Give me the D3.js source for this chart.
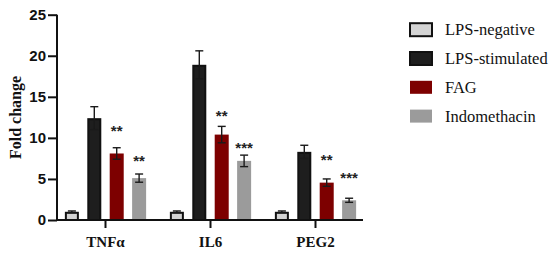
<!DOCTYPE html>
<html><head><meta charset="utf-8">
<script src="https://cdn.jsdelivr.net/npm/d3@7"></script>
<style>body{margin:0;background:#fff}svg{display:block}</style>
</head><body><svg id="c" width="550" height="253"></svg>
<script>
const categories = ["TNFα", "IL6", "PEG2"];
const series = ["LPS-negative", "LPS-stimulated", "FAG", "Indomethacin"];
const means = {
  "LPS-negative":   [1.0, 1.0, 1.0],
  "LPS-stimulated": [12.4, 18.9, 8.3],
  "FAG":            [8.1, 10.4, 4.55],
  "Indomethacin":   [5.1, 7.2, 2.4]
};
const errors = {
  "LPS-negative":   [0.1, 0.1, 0.1],
  "LPS-stimulated": [1.4, 1.7, 0.8],
  "FAG":            [0.7, 1.0, 0.45],
  "Indomethacin":   [0.5, 0.7, 0.25]
};
const stars = {
  "FAG":          ["**", "**", "**"],
  "Indomethacin": ["**", "***", "***"]
};
const starLevels = {
  "FAG":          [11.2, 13.0, 7.7],
  "Indomethacin": [7.6, 9.1, 5.5]
};
const yTicks = [0, 5, 10, 15, 20, 25];
const fills = {"LPS-negative":"#d4d4d4","LPS-stimulated":"#1e1e1e","FAG":"#7d0000","Indomethacin":"#9b9b9b"};
const strokes = {"LPS-negative":"#111","LPS-stimulated":"#111","FAG":"none","Indomethacin":"none"};

const svg = d3.select("#c");
const serif = "'Liberation Serif','Times New Roman',serif";
const sans = "'Liberation Sans',Arial,sans-serif";

const y = d3.scaleLinear().domain([0, 25]).range([220, 14.7]);
const x0 = d3.scaleBand().domain(categories).range([53, 368]);
const x1 = d3.scaleBand().domain(series).range([0, x0.bandwidth()]).paddingInner(0.375).paddingOuter(0.53);

// bars
categories.forEach((c, ci) => {
  const g = svg.append("g").attr("transform", `translate(${x0(c)},0)`);
  series.forEach(s => {
    const v = means[s][ci], e = errors[s][ci];
    const bx = x1(s), bw = x1.bandwidth();
    const hasStroke = strokes[s] !== "none";
    g.append("rect")
      .attr("x", hasStroke ? bx + 1 : bx).attr("y", y(v) + (hasStroke ? 1 : 0))
      .attr("width", hasStroke ? bw - 2 : bw).attr("height", y(0) - y(v) - (hasStroke ? 1 : 0))
      .attr("fill", fills[s]).attr("stroke", strokes[s]).attr("stroke-width", 2);
    const cx = bx + bw / 2, cap = 4;
    const eg = g.append("g").attr("stroke", "#1a1a1a").attr("stroke-width", 1.4);
    eg.append("line").attr("x1", cx).attr("x2", cx).attr("y1", y(v + e)).attr("y2", y(v - e));
    eg.append("line").attr("x1", cx - cap).attr("x2", cx + cap).attr("y1", y(v + e)).attr("y2", y(v + e));
    eg.append("line").attr("x1", cx - cap).attr("x2", cx + cap).attr("y1", y(v - e)).attr("y2", y(v - e));
    if (stars[s]) {
      g.append("text").attr("x", cx).attr("y", y(starLevels[s][ci]) + 8)
        .attr("text-anchor", "middle").attr("font-family", sans).attr("font-weight", "bold")
        .attr("font-size", 15).attr("fill", "#222").text(stars[s][ci]);
    }
  });
});

// y axis
const ya = svg.append("g").attr("transform", "translate(57,0)")
  .call(d3.axisLeft(y).tickValues(yTicks).tickSize(9).tickPadding(2));
ya.select(".domain").attr("stroke", "#111").attr("stroke-width", 2).attr("d", `M0,${y(25)}V${y(0)}`);
ya.selectAll(".tick line").attr("stroke", "#111").attr("stroke-width", 2);
ya.selectAll(".tick text").attr("font-family", sans).attr("font-weight", "bold").attr("font-size", 15).attr("fill", "#111");

// x axis
const xa = svg.append("g").attr("transform", `translate(0,${y(0)})`)
  .call(d3.axisBottom(d3.scaleBand().domain(categories).range([53, 368])).tickSize(8).tickPadding(8));
xa.select(".domain").attr("stroke", "#111").attr("stroke-width", 2).attr("d", "M56,0H363");
xa.selectAll(".tick line").attr("stroke", "#111").attr("stroke-width", 2);
xa.selectAll(".tick text").attr("font-family", serif).attr("font-weight", "bold").attr("font-size", 15).attr("fill", "#111");

// y label
svg.append("text").attr("transform", "translate(21,117.5) rotate(-90)")
  .attr("text-anchor", "middle").attr("font-family", serif).attr("font-weight", "bold")
  .attr("font-size", 16).attr("fill", "#111").text("Fold change");

// legend
const lg = svg.append("g");
series.forEach((s, i) => {
  const cy = 29.7 + i * 28.8;
  lg.append("rect").attr("x", 410).attr("y", cy - 6.5)
    .attr("width", 22).attr("height", 13)
    .attr("fill", fills[s]).attr("stroke", strokes[s]).attr("stroke-width", 2);
  lg.append("text").attr("x", 445).attr("y", cy).attr("dy", "0.35em")
    .attr("font-family", serif).attr("font-size", 16.5).attr("fill", "#111").text(s);
});
</script></body></html>
